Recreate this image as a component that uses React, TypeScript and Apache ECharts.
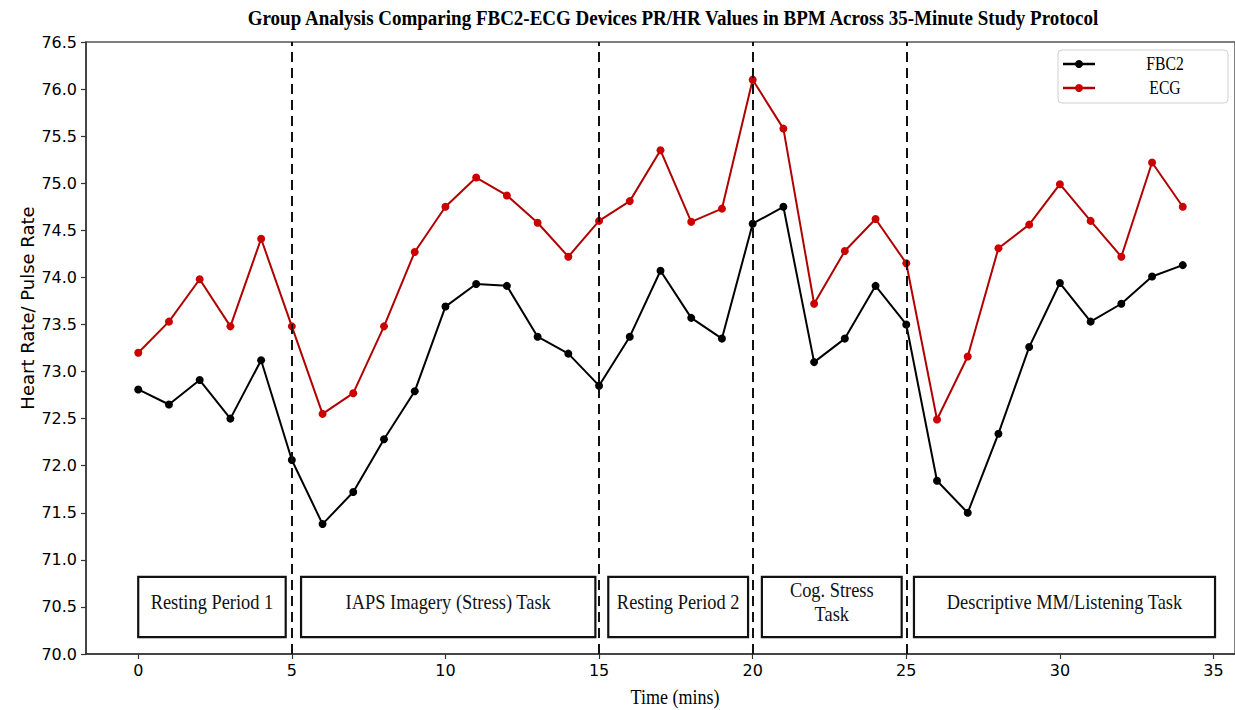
import React, { useEffect, useRef } from "react";
import * as echarts from "echarts";

// Minute index of each sample
const minutes = [
  0, 1, 2, 3, 4, 5, 6, 7, 8, 9, 10, 11, 12, 13, 14, 15, 16, 17, 18, 19, 20, 21, 22, 23, 24, 25, 26, 27, 28, 29, 30, 31,
  32, 33, 34,
];

// Group mean pulse rate from the FBC2 device (BPM)
const fbc2 = [
  72.81, 72.65, 72.91, 72.5, 73.12, 72.06, 71.38, 71.72, 72.28, 72.79, 73.69, 73.93, 73.91, 73.37, 73.19, 72.85, 73.37,
  74.07, 73.57, 73.35, 74.57, 74.75, 73.1, 73.35, 73.91, 73.5, 71.84, 71.5, 72.34, 73.26, 73.94, 73.53, 73.72, 74.01,
  74.13,
];

// Group mean heart rate from the ECG reference (BPM)
const ecg = [
  73.2, 73.53, 73.98, 73.48, 74.41, 73.48, 72.55, 72.77, 73.48, 74.27, 74.75, 75.06, 74.87, 74.58, 74.22, 74.6, 74.81,
  75.35, 74.59, 74.73, 76.1, 75.58, 73.72, 74.28, 74.62, 74.15, 72.49, 73.16, 74.31, 74.56, 74.99, 74.6, 74.22, 75.22,
  74.75,
];

// Protocol phase boundaries (minutes) and their captions
const phaseBoundaries = [5, 15, 20, 25];
const phaseLabels = [
  "Resting Period 1",
  "IAPS Imagery (Stress) Task",
  "Resting Period 2",
  "Cog. Stress\nTask",
  "Descriptive MM/Listening Task",
];
const phaseStart = [0, 5.3, 15.3, 20.3, 25.25];
const phaseEnd = [4.8, 14.88, 19.85, 24.85, 35.05];
const phaseBoxBottom = 70.18;
const phaseBoxTop = 70.82;

const xTicks = [0, 5, 10, 15, 20, 25, 30, 35];

const SERIF = "'Liberation Serif', 'Times New Roman', serif";
const SANS = "'DejaVu Sans', sans-serif";

export default function App() {
  const ref = useRef<HTMLDivElement>(null);

  useEffect(() => {
    if (!ref.current) return;
    const chart = echarts.init(ref.current, undefined, { renderer: "svg" });

    const option: any = {
      animation: false,
      backgroundColor: "#ffffff",
      grid: {
        left: 86,
        top: 42,
        width: 1153,
        height: 612,
        show: true,
        borderColor: "#555",
        borderWidth: 1.5,
        backgroundColor: "transparent",
      },
      xAxis: {
        type: "value",
        min: -1.7,
        max: 35.7,
        splitLine: { show: false },
        axisLine: { show: true, onZero: false, lineStyle: { color: "#333", width: 1.5 } },
        axisTick: { show: true, customValues: xTicks, length: 5, lineStyle: { color: "#333", width: 1.2 } },
        axisLabel: {
          customValues: xTicks,
          color: "#000",
          fontFamily: SANS,
          fontSize: 16,
          margin: 8,
        },
      },
      yAxis: {
        type: "value",
        min: 70,
        max: 76.5,
        interval: 0.5,
        splitLine: { show: false },
        axisLine: { show: true, onZero: false, lineStyle: { color: "#333", width: 1.5 } },
        axisTick: { show: true, length: 5, lineStyle: { color: "#333", width: 1.2 } },
        axisLabel: {
          color: "#000",
          fontFamily: SANS,
          fontSize: 16,
          margin: 9,
          formatter: (v: number) => v.toFixed(1),
        },
      },
      series: [
        {
          name: "phases",
          type: "custom",
          silent: true,
          z: 1,
          data: phaseStart.map((s, i) => [s, phaseEnd[i]]),
          encode: { x: [0, 1] },
          renderItem: (params: any, api: any) => {
            const x0 = api.value(0);
            const x1 = api.value(1);
            const p0 = api.coord([x0, phaseBoxTop]);
            const p1 = api.coord([x1, phaseBoxBottom]);
            const cx = (p0[0] + p1[0]) / 2;
            const cy = (p0[1] + p1[1]) / 2 - 5;
            return {
              type: "group",
              children: [
                {
                  type: "rect",
                  shape: { x: p0[0], y: p0[1], width: p1[0] - p0[0], height: p1[1] - p0[1] },
                  style: { fill: "#fff", stroke: "#111", lineWidth: 2.2 },
                },
                {
                  type: "text",
                  x: cx,
                  y: cy,
                  scaleX: 0.92,
                  style: {
                    text: phaseLabels[params.dataIndex],
                    fontFamily: SERIF,
                    fontSize: 20,
                    fill: "#111",
                    align: "center",
                    verticalAlign: "middle",
                    lineHeight: 24,
                  },
                },
              ],
            };
          },
        },
        {
          name: "FBC2",
          type: "line",
          z: 3,
          data: minutes.map((m, i) => [m, fbc2[i]]),
          symbol: "circle",
          symbolSize: 8,
          lineStyle: { color: "#000", width: 2 },
          itemStyle: { color: "#000" },
          markLine: {
            silent: true,
            symbol: ["none", "none"],
            label: { show: false },
            lineStyle: { color: "#111", type: [10, 6], width: 2 },
            data: phaseBoundaries.map((b) => ({ xAxis: b })),
          },
        },
        {
          name: "ECG",
          type: "line",
          z: 3,
          data: minutes.map((m, i) => [m, ecg[i]]),
          symbol: "circle",
          symbolSize: 8,
          lineStyle: { color: "#b00000", width: 2 },
          itemStyle: { color: "#cc0000" },
        },
      ],
      graphic: [
        {
          type: "text",
          x: 673,
          y: 18,
          scaleX: 0.95,
          style: {
            text: "Group Analysis Comparing FBC2-ECG Devices PR/HR Values in BPM Across 35-Minute Study Protocol",
            fontFamily: SERIF,
            fontWeight: "bold",
            fontSize: 20,
            fill: "#000",
            align: "center",
            verticalAlign: "middle",
          },
        },
        {
          type: "text",
          x: 27,
          y: 308,
          rotation: Math.PI / 2,
          style: {
            text: "Heart Rate/ Pulse Rate",
            fontFamily: SANS,
            fontSize: 18,
            fill: "#000",
            align: "center",
            verticalAlign: "middle",
          },
        },
        {
          type: "text",
          x: 675,
          y: 697,
          scaleX: 0.9,
          style: {
            text: "Time (mins)",
            fontFamily: SERIF,
            fontSize: 20,
            fill: "#000",
            align: "center",
            verticalAlign: "middle",
          },
        },
        {
          type: "group",
          children: [
            {
              type: "rect",
              shape: { x: 1058, y: 50, width: 170, height: 53, r: 4 },
              style: { fill: "#fff", stroke: "#d0d0d0", lineWidth: 1 },
            },
            { type: "line", shape: { x1: 1063, y1: 64, x2: 1095, y2: 64 }, style: { stroke: "#000", lineWidth: 2.5 } },
            { type: "circle", shape: { cx: 1079, cy: 64, r: 4 }, style: { fill: "#000" } },
            {
              type: "text",
              x: 1165,
              y: 64,
              scaleX: 0.87,
              style: { text: "FBC2", fontFamily: SERIF, fontSize: 18, fill: "#000", align: "center", verticalAlign: "middle" },
            },
            { type: "line", shape: { x1: 1063, y1: 88, x2: 1095, y2: 88 }, style: { stroke: "#b00000", lineWidth: 2.5 } },
            { type: "circle", shape: { cx: 1079, cy: 88, r: 4 }, style: { fill: "#cc0000" } },
            {
              type: "text",
              x: 1165,
              y: 88,
              scaleX: 0.87,
              style: { text: "ECG", fontFamily: SERIF, fontSize: 18, fill: "#000", align: "center", verticalAlign: "middle" },
            },
          ],
        },
      ],
    };

    chart.setOption(option);
    return () => chart.dispose();
  }, []);

  return (
    <div
      ref={ref}
      style={{ position: "fixed", left: 0, top: 0, width: 1235, height: 710, background: "#fff" }}
    />
  );
}
